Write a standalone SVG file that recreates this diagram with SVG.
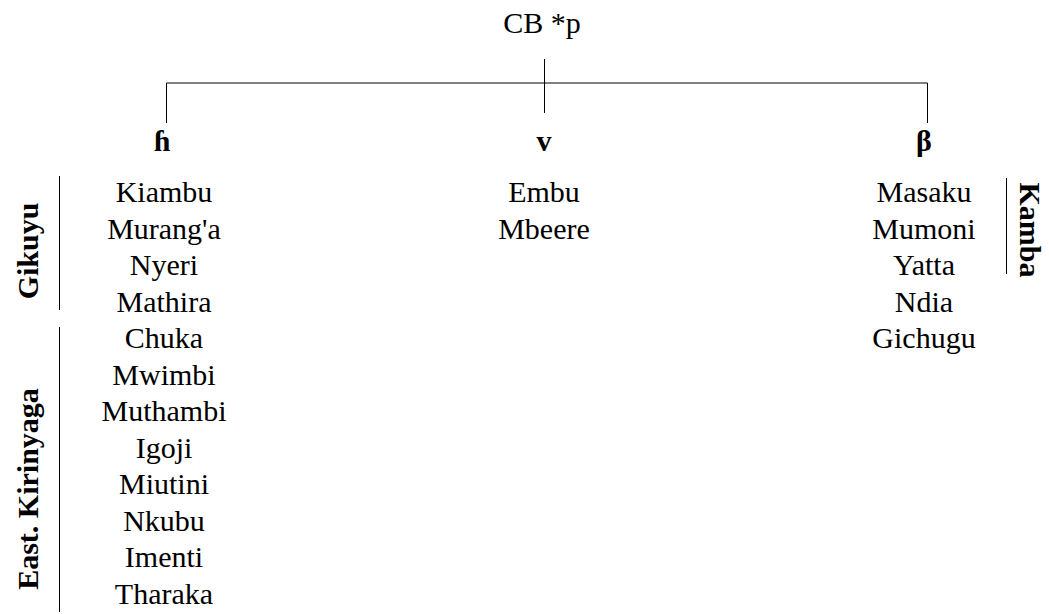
<svg xmlns="http://www.w3.org/2000/svg" width="1049" height="614" viewBox="0 0 1049 614">
<style>
text{font-size:30px;fill:#000;text-anchor:middle}
.b{font-weight:bold}
line{stroke:#000;stroke-width:1;fill:none}
</style>
<rect width="1049" height="614" fill="#fff"/>
<g font-family="'Liberation Serif', Tinos, 'Times New Roman', Times, 'DejaVu Serif', serif">
<g id="root"><text x="542" y="33">CB *p</text></g>
<g id="h-branch">
<text class="b" x="162" y="151">ɦ</text>
<text x="164" y="202">Kiambu</text>
<text x="164" y="238.5">Murang'a</text>
<text x="164" y="275">Nyeri</text>
<text x="164" y="311.5">Mathira</text>
<text x="164" y="348">Chuka</text>
<text x="164" y="384.5">Mwimbi</text>
<text x="164" y="421">Muthambi</text>
<text x="164" y="457.5">Igoji</text>
<text x="164" y="494">Miutini</text>
<text x="164" y="530.5">Nkubu</text>
<text x="164" y="567">Imenti</text>
<text x="164" y="603.5">Tharaka</text>
</g>
<g id="v-branch">
<text class="b" x="544" y="151">v</text>
<text x="544" y="202">Embu</text>
<text x="544" y="238.5">Mbeere</text>
</g>
<g id="beta-branch">
<text class="b" x="924" y="151">β</text>
<text x="924" y="202">Masaku</text>
<text x="924" y="238.5">Mumoni</text>
<text x="924" y="275">Yatta</text>
<text x="924" y="311.5">Ndia</text>
<text x="924" y="348">Gichugu</text>
</g>
<g id="gikuyu"><text class="b" transform="translate(38,251) rotate(-90)">Gikuyu</text></g>
<g id="east-kirinyaga"><text class="b" transform="translate(38,489) rotate(-90)">East. Kirinyaga</text></g>
<g id="kamba"><text class="b" transform="translate(1020,230) rotate(90)">Kamba</text></g>
</g>
<g id="connectors">
<line x1="544.5" y1="59" x2="544.5" y2="113"/>
<line x1="166.5" y1="83" x2="927.5" y2="83"/>
<line x1="166.5" y1="83" x2="166.5" y2="123"/>
<line x1="927.5" y1="83" x2="927.5" y2="123"/>
<line x1="59.5" y1="176" x2="59.5" y2="310"/>
<line x1="59.5" y1="327" x2="59.5" y2="612"/>
<line x1="1006.5" y1="178" x2="1006.5" y2="274"/>
</g>
</svg>
